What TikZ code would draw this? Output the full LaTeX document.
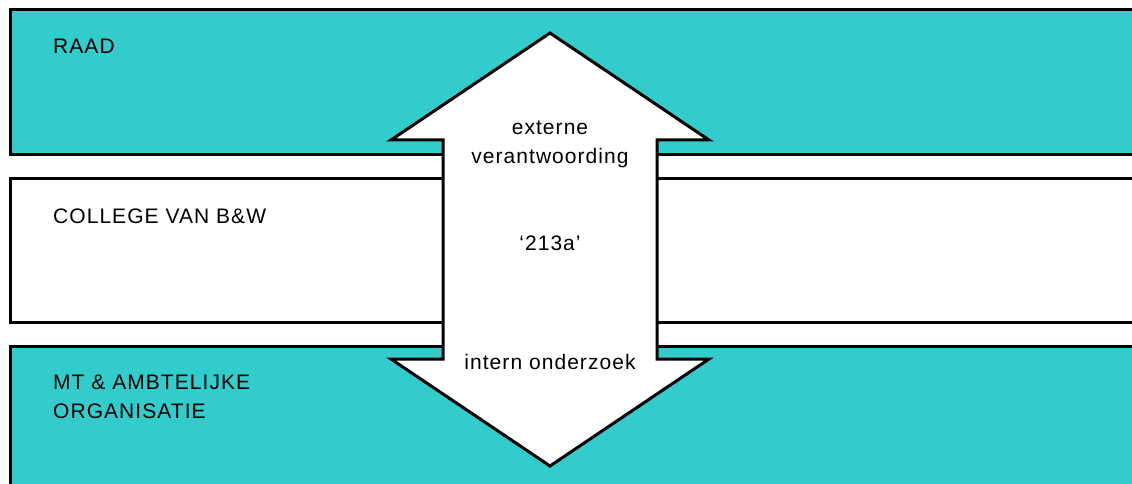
\documentclass[tikz,border=0pt]{standalone}
\usepackage{fontspec}
\setmainfont[LetterSpace=5]{Liberation Sans}
\definecolor{bandteal}{RGB}{51,204,204}

\begin{document}
\begin{tikzpicture}[x=1pt,y=1pt]
\tikzstyle{every node}+=[inner sep=0pt, font=\fontsize{21}{29}\selectfont]
\useasboundingbox (0,0) rectangle (1132,-484);
\draw [black, line width=3pt, fill=bandteal] (10,-10) rectangle (1145,-154);
\draw [black, line width=3pt, fill=white] (10,-178) rectangle (1145,-322);
\draw [black, line width=3pt, fill=bandteal] (10,-346) rectangle (1145,-500);
\draw [black, line width=3pt, fill=white, line join=miter] (550,-33) -- (709,-140) -- (657,-140) -- (657,-359) -- (709,-359) -- (550,-466) -- (391,-359) -- (443,-359) -- (443,-140) -- (391,-140) -- cycle;
\node (raad) [anchor=base west] at (53,-54) {RAAD};
\node (college) [anchor=base west] at (53,-223) {COLLEGE VAN B\&W};
\node (mt) [anchor=north west, align=left] at (53,-375) {MT \& AMBTELIJKE\\ORGANISATIE};
\node (extern) [anchor=north, align=center] at (550,-121) {externe\\verantwoording};
\node (art) [anchor=base] at (550,-250) {‘213a’};
\node (intern) [anchor=base] at (550,-369) {intern onderzoek};
\end{tikzpicture}
\end{document}
